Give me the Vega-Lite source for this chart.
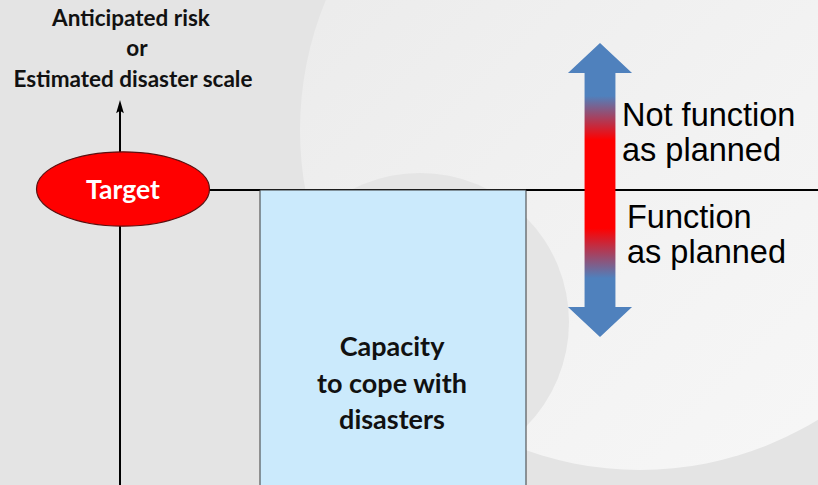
{
  "$schema": "https://vega.github.io/schema/vega-lite/v6.json",
  "width": 818,
  "height": 485,
  "autosize": {"type": "none"},
  "padding": 0,
  "background": "#e4e4e4",
  "config": {"view": {"stroke": null}},
  "layer": [
    {
      "data": {"values": [{"x": 640, "y": 130}]},
      "mark": {"type": "point", "shape": "circle", "filled": true, "size": 462400, "opacity": 1, "strokeWidth": 0, "clip": true,
        "fill": {"gradient": "linear", "x1": 0, "y1": 0, "x2": 1, "y2": 1, "stops": [{"offset": 0, "color": "#e9e9e9"}, {"offset": 0.6, "color": "#f3f3f3"}, {"offset": 1, "color": "#f8f8f8"}]}},
      "encoding": {
        "x": {"field": "x", "type": "quantitative", "scale": {"domain": [0, 818], "nice": false, "zero": false}, "axis": null},
        "y": {"field": "y", "type": "quantitative", "scale": {"domain": [0, 485], "reverse": true, "nice": false, "zero": false}, "axis": null}
      }
    },
    {
      "data": {"values": [{"x": 420, "y": 322}]},
      "mark": {"type": "point", "shape": "circle", "filled": true, "size": 88804, "opacity": 1, "strokeWidth": 0, "clip": true, "fill": "#e5e5e5"},
      "encoding": {
        "x": {"field": "x", "type": "quantitative", "scale": {"domain": [0, 818], "nice": false, "zero": false}, "axis": null},
        "y": {"field": "y", "type": "quantitative", "scale": {"domain": [0, 485], "reverse": true, "nice": false, "zero": false}, "axis": null}
      }
    },
    {
      "data": {"values": [{"x": 120, "y": 108, "y2": 485}]},
      "mark": {"type": "rule", "color": "#000000", "strokeWidth": 2},
      "encoding": {
        "x": {"field": "x", "type": "quantitative", "scale": {"domain": [0, 818], "nice": false, "zero": false}, "axis": null},
        "y": {"field": "y", "type": "quantitative", "scale": {"domain": [0, 485], "reverse": true, "nice": false, "zero": false}, "axis": null},
        "y2": {"field": "y2"}
      }
    },
    {
      "data": {"values": [{"x": 120, "y": 107}]},
      "mark": {"type": "point", "shape": "M0,-1 L0.55,0.9 L0,0.55 L-0.55,0.9 Z", "filled": true, "size": 196, "opacity": 1, "color": "#000000", "strokeWidth": 0},
      "encoding": {
        "x": {"field": "x", "type": "quantitative", "scale": {"domain": [0, 818], "nice": false, "zero": false}, "axis": null},
        "y": {"field": "y", "type": "quantitative", "scale": {"domain": [0, 485], "reverse": true, "nice": false, "zero": false}, "axis": null}
      }
    },
    {
      "data": {"values": [{"x": 200, "x2": 818, "y": 190}]},
      "mark": {"type": "rule", "color": "#000000", "strokeWidth": 2},
      "encoding": {
        "x": {"field": "x", "type": "quantitative", "scale": {"domain": [0, 818], "nice": false, "zero": false}, "axis": null},
        "x2": {"field": "x2"},
        "y": {"field": "y", "type": "quantitative", "scale": {"domain": [0, 485], "reverse": true, "nice": false, "zero": false}, "axis": null}
      }
    },
    {
      "data": {"values": [{"x": 260, "x2": 526, "y": 190, "y2": 492}]},
      "mark": {"type": "rect", "fill": "#cbeafc", "stroke": "#3a3a3a", "strokeWidth": 1},
      "encoding": {
        "x": {"field": "x", "type": "quantitative", "scale": {"domain": [0, 818], "nice": false, "zero": false}, "axis": null},
        "x2": {"field": "x2"},
        "y": {"field": "y", "type": "quantitative", "scale": {"domain": [0, 485], "reverse": true, "nice": false, "zero": false}, "axis": null},
        "y2": {"field": "y2"}
      }
    },
    {
      "data": {"values": [{"x": 123, "y": 189}]},
      "mark": {"type": "point", "shape": "M-1,0 A1,0.43 0 1,1 1,0 A1,0.43 0 1,1 -1,0 Z", "filled": true, "size": 29929, "opacity": 1, "fill": "#ff0000", "stroke": "#5a1010", "strokeWidth": 1.2},
      "encoding": {
        "x": {"field": "x", "type": "quantitative", "scale": {"domain": [0, 818], "nice": false, "zero": false}, "axis": null},
        "y": {"field": "y", "type": "quantitative", "scale": {"domain": [0, 485], "reverse": true, "nice": false, "zero": false}, "axis": null}
      }
    },
    {
      "data": {"values": [{"x": 600, "y": 190}]},
      "mark": {"type": "point", "shape": "M0,-1 L0.218,-0.796 L0.105,-0.796 L0.105,0.796 L0.218,0.796 L0,1 L-0.218,0.796 L-0.105,0.796 L-0.105,-0.796 L-0.218,-0.796 Z", "filled": true, "size": 86436, "opacity": 1, "strokeWidth": 0,
        "fill": {"gradient": "linear", "x1": 0, "y1": 0, "x2": 0, "y2": 1, "stops": [{"offset": 0, "color": "#4f81bd"}, {"offset": 0.18, "color": "#4f81bd"}, {"offset": 0.33, "color": "#ff0000"}, {"offset": 0.63, "color": "#ff0000"}, {"offset": 0.8, "color": "#4f81bd"}, {"offset": 1, "color": "#4f81bd"}]}},
      "encoding": {
        "x": {"field": "x", "type": "quantitative", "scale": {"domain": [0, 818], "nice": false, "zero": false}, "axis": null},
        "y": {"field": "y", "type": "quantitative", "scale": {"domain": [0, 485], "reverse": true, "nice": false, "zero": false}, "axis": null}
      }
    },
    {
      "data": {"values": [
        {"t": "Anticipated risk", "x": 131, "y": 26},
        {"t": "or", "x": 137, "y": 56},
        {"t": "Estimated disaster scale", "x": 133, "y": 87}
      ]},
      "mark": {"type": "text", "font": "Lato", "fontWeight": "bold", "fontSize": 22.5, "align": "center", "baseline": "alphabetic", "color": "#111111"},
      "encoding": {
        "x": {"field": "x", "type": "quantitative", "scale": {"domain": [0, 818], "nice": false, "zero": false}, "axis": null},
        "y": {"field": "y", "type": "quantitative", "scale": {"domain": [0, 485], "reverse": true, "nice": false, "zero": false}, "axis": null},
        "text": {"field": "t"}
      }
    },
    {
      "data": {"values": [{"t": "Target", "x": 123, "y": 199}]},
      "mark": {"type": "text", "font": "Lato", "fontWeight": "bold", "fontSize": 26.5, "align": "center", "baseline": "alphabetic", "color": "#ffffff"},
      "encoding": {
        "x": {"field": "x", "type": "quantitative", "scale": {"domain": [0, 818], "nice": false, "zero": false}, "axis": null},
        "y": {"field": "y", "type": "quantitative", "scale": {"domain": [0, 485], "reverse": true, "nice": false, "zero": false}, "axis": null},
        "text": {"field": "t"}
      }
    },
    {
      "data": {"values": [
        {"t": "Not function", "x": 622, "y": 126},
        {"t": "as planned", "x": 622, "y": 161},
        {"t": "Function", "x": 627, "y": 228},
        {"t": "as planned", "x": 627, "y": 263}
      ]},
      "mark": {"type": "text", "font": "Liberation Sans", "fontSize": 32.5, "align": "left", "baseline": "alphabetic", "color": "#000000"},
      "encoding": {
        "x": {"field": "x", "type": "quantitative", "scale": {"domain": [0, 818], "nice": false, "zero": false}, "axis": null},
        "y": {"field": "y", "type": "quantitative", "scale": {"domain": [0, 485], "reverse": true, "nice": false, "zero": false}, "axis": null},
        "text": {"field": "t"}
      }
    },
    {
      "data": {"values": [
        {"t": "Capacity", "x": 392, "y": 356},
        {"t": "to cope with", "x": 392, "y": 393},
        {"t": "disasters", "x": 392, "y": 429}
      ]},
      "mark": {"type": "text", "font": "Lato", "fontWeight": "bold", "fontSize": 27, "align": "center", "baseline": "alphabetic", "color": "#111111"},
      "encoding": {
        "x": {"field": "x", "type": "quantitative", "scale": {"domain": [0, 818], "nice": false, "zero": false}, "axis": null},
        "y": {"field": "y", "type": "quantitative", "scale": {"domain": [0, 485], "reverse": true, "nice": false, "zero": false}, "axis": null},
        "text": {"field": "t"}
      }
    }
  ]
}
